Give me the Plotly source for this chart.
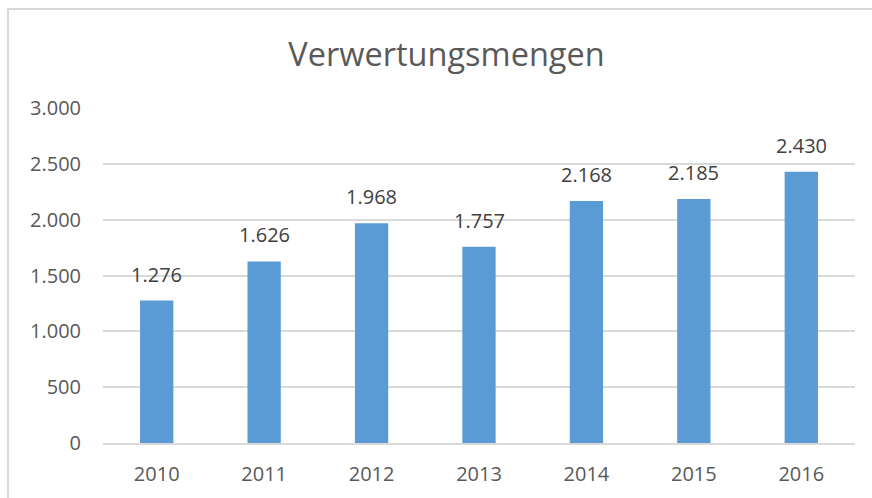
import plotly.graph_objects as go

years = ["2010", "2011", "2012", "2013", "2014", "2015", "2016"]
values = [1276, 1626, 1968, 1757, 2168, 2185, 2430]
y_ticks = [0, 500, 1000, 1500, 2000, 2500, 3000]
title_text = "Verwertungsmengen"

def fmt(v):
    return f"{v:,}".replace(",", ".")

fig = go.Figure(go.Bar(
    x=years, y=values, marker=dict(color="#5B9BD5", line=dict(width=0)),
    width=0.31, hoverinfo="skip",
))

annotations = [
    dict(x=i, y=v, text=fmt(v), showarrow=False, yanchor="bottom", yshift=11,
         font=dict(family="Open Sans", size=20, color="#404040"))
    for i, v in enumerate(values)
]

fig.update_layout(
    width=872, height=498,
    margin=dict(l=103, r=17, t=108, b=55),
    paper_bgcolor="white", plot_bgcolor="white",
    title=dict(text=title_text, x=446.5 / 872, xref="container", xanchor="center",
               y=1 - 55 / 498, yref="container", yanchor="middle",
               font=dict(family="Open Sans", size=32.5, color="#595959")),
    showlegend=False,
    annotations=annotations,
    shapes=[dict(type="rect", xref="paper", yref="paper",
                 x0=-0.1263, x1=1.1, y0=-0.3, y1=1.2955,
                 line=dict(color="#d9d9d9", width=2), layer="below")],
    xaxis=dict(type="category", range=[-0.5, len(years) - 0.5],
               showgrid=False, showline=True, linecolor="#d9d9d9",
               linewidth=1.5, ticks="", ticklabelstandoff=12,
               tickfont=dict(family="Open Sans", size=20, color="#595959")),
    yaxis=dict(range=[0, 3000], tickvals=y_ticks,
               ticktext=[fmt(t) for t in y_ticks],
               showgrid=True, gridcolor="#d9d9d9", gridwidth=1.5,
               zeroline=False, showline=False, ticks="", ticklabelstandoff=21,
               tickfont=dict(family="Open Sans", size=20, color="#595959")),
)

fig.write_html("out.html", config={"displayModeBar": False},
               post_script="document.body.style.margin='0';")
